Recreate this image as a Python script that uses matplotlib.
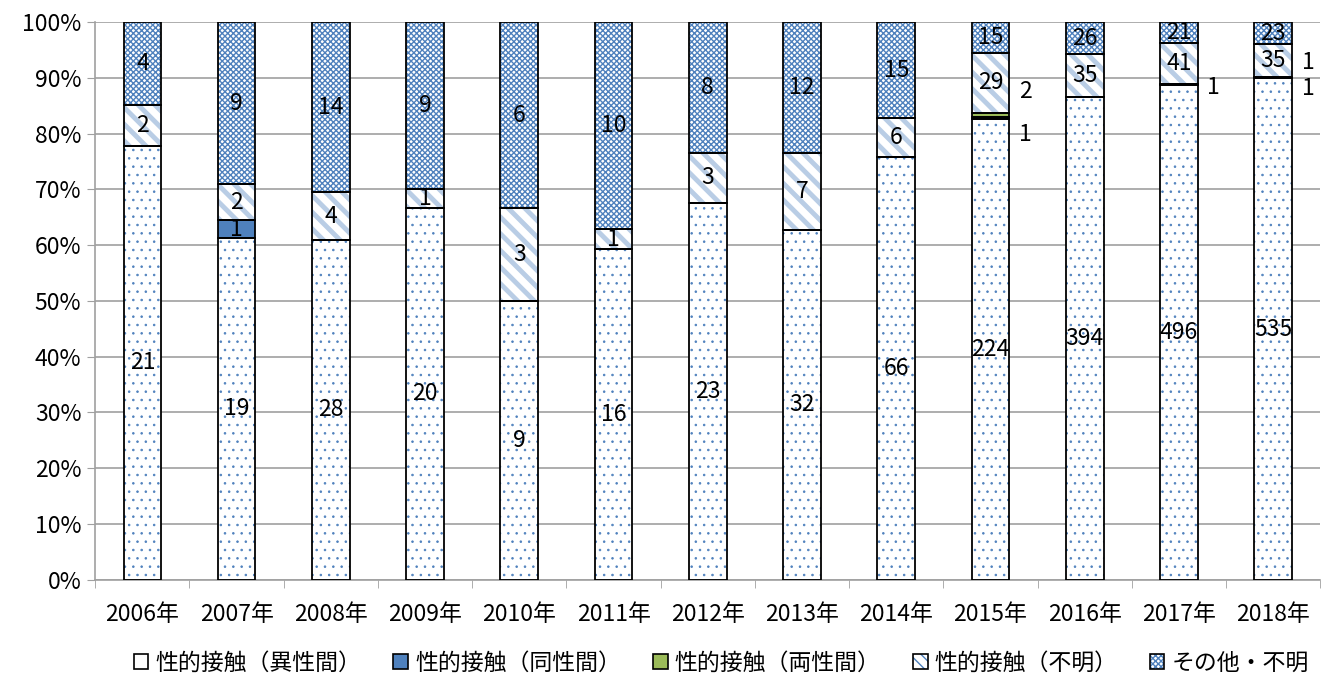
import matplotlib
matplotlib.use("Agg")
import matplotlib.pyplot as plt
from matplotlib.legend_handler import HandlerTuple
import numpy as np

plt.rcParams['font.family'] = ['Noto Sans CJK JP', 'DejaVu Sans']

years = ['2006年', '2007年', '2008年', '2009年', '2010年', '2011年', '2012年',
         '2013年', '2014年', '2015年', '2016年', '2017年', '2018年']
names = ['性的接触（異性間）', '性的接触（同性間）', '性的接触（両性間）',
         '性的接触（不明）', 'その他・不明']

hetero = [21, 19, 28, 20, 9, 16, 23, 32, 66, 224, 394, 496, 535]
homo = [0, 1, 0, 0, 0, 0, 0, 0, 0, 1, 0, 1, 1]
bi = [0, 0, 0, 0, 0, 0, 0, 0, 0, 2, 0, 0, 1]
unknown_sex = [2, 2, 4, 1, 3, 1, 3, 7, 6, 29, 35, 41, 35]
other = [4, 9, 14, 9, 6, 10, 8, 12, 15, 15, 26, 21, 23]

# (year index, series index) -> label written beside the bar, with y shift in %
side_labels = {(9, 1): -2.9, (9, 2): 4.2, (11, 1): -0.6, (12, 1): -1.8, (12, 2): 2.6}

series = [hetero, homo, bi, unknown_sex, other]
styles = [
    dict(facecolor='white', hatch='..', hcolor='#4F81BD', hlw=0.6),
    dict(facecolor='#4F81BD', hatch=None, hcolor='#4F81BD', hlw=1.0),
    dict(facecolor='#9BBB59', hatch=None, hcolor='#9BBB59', hlw=1.0),
    dict(facecolor='white', hatch='\\\\', hcolor='#B9CDE5', hlw=3.5),
    dict(facecolor='white', hatch='xxxxxx', hcolor='#4F81BD', hlw=1.0),
]

data = np.array(series, dtype=float)
pct = data / data.sum(axis=0) * 100

fig = plt.figure(figsize=(13.23, 6.95), dpi=100)
ax = fig.add_axes([0.072, 0.166, 0.926, 0.802])

x = np.arange(len(years))
width = 0.4
bottom = np.zeros(len(years))
handles = []
fs = 16.5
for i, (name, st) in enumerate(zip(names, styles)):
    with plt.rc_context({'hatch.linewidth': st['hlw']}):
        b = ax.bar(x, pct[i], width, bottom=bottom, color=st['facecolor'],
                   hatch=st['hatch'], edgecolor=st['hcolor'], linewidth=0,
                   zorder=2)
    for p in b:
        try:
            p.set_hatch_linewidth(st['hlw'])
        except AttributeError:
            pass
    ax.bar(x, pct[i], width, bottom=bottom, fill=False, edgecolor='black',
           linewidth=1.3, zorder=3)
    # legend proxy: pattern patch under a black outline
    lh = None if i == 0 else st['hatch']
    if i == 3:
        lh = '\\\\\\'
    with plt.rc_context({'hatch.linewidth': 1.6 if i == 3 else 0.9}):
        inner = plt.Rectangle((0, 0), 1, 1, facecolor=st['facecolor'],
                              hatch=lh, edgecolor=st['hcolor'] if i != 3 else '#4F81BD',
                              linewidth=0)
    outer = plt.Rectangle((0, 0), 1, 1, fill=False, edgecolor='black',
                          linewidth=1.2)
    handles.append((inner, outer))
    for j in range(len(years)):
        v = series[i][j]
        if v == 0:
            continue
        yc = bottom[j] + pct[i][j] / 2
        if (j, i) in side_labels:
            ax.text(x[j] + width / 2 + 0.1, yc + side_labels[(j, i)], str(v),
                    ha='left', va='center', fontsize=fs, zorder=4)
        else:
            ax.text(x[j], yc, str(v), ha='center', va='center', fontsize=fs,
                    zorder=4)
    bottom += pct[i]

ax.set_xlim(-0.5, len(years) - 0.5)
ax.set_ylim(0, 100)
ax.set_yticks(np.arange(0, 101, 10))
ax.set_yticklabels([f'{v}%' for v in range(0, 101, 10)], fontsize=fs)
ax.set_xticks(x)
ax.set_xticklabels(years, fontsize=fs)
ax.set_xticks(np.arange(-0.5, len(years), 1), minor=True)
ax.tick_params(axis='x', which='major', length=0, pad=17)
ax.tick_params(axis='x', which='minor', length=6, color='#A0A0A0')
ax.tick_params(axis='y', length=6, color='#A0A0A0', pad=4)
ax.yaxis.grid(True, color='#A0A0A0', linewidth=1.2, zorder=0)
ax.set_axisbelow(True)
for s in ['top', 'right']:
    ax.spines[s].set_visible(False)
for s in ['left', 'bottom']:
    ax.spines[s].set_color('#A0A0A0')
    ax.spines[s].set_linewidth(1.2)

fig.legend(handles, names, loc='lower center', ncol=5, frameon=False,
           fontsize=fs, bbox_to_anchor=(0.545, 0.0), handlelength=0.65,
           handleheight=0.65, handletextpad=0.3, columnspacing=1.4,
           handler_map={tuple: HandlerTuple(ndivide=1)})

fig.savefig('out.png', dpi=100)
